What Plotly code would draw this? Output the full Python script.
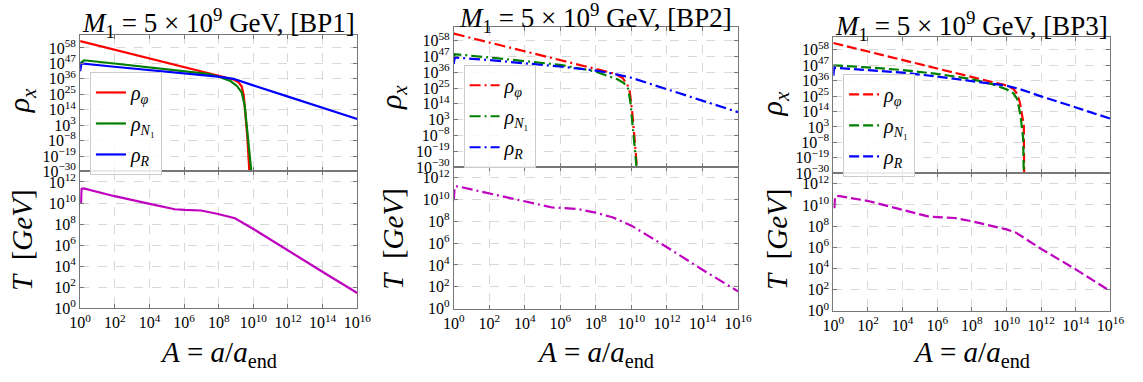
import numpy as np
import plotly.graph_objects as go

# ---------------- data (log10 values) ----------------
# BP1
bp1_phi_lx = [0, 4, 7.96, 8.86, 9.15, 9.33, 9.45, 9.55, 9.65, 9.78]
bp1_phi_lr = [62.9, 50.6, 38.3, 35.5, 33.5, 30.5, 24, 12, -5, -32]
bp1_n1_lx = [0, 0.23, 1.97, 3.98, 5.95, 7.36, 7.96, 8.68, 9.05, 9.33, 9.5, 9.62, 9.75, 9.9]
bp1_n1_lr = [47.1, 49.2, 46.9, 44.3, 41.8, 39.5, 37.6, 34.4, 30.9, 26.3, 17, 2, -15, -32]
bp1_r_lx = [0, 0.07, 1.97, 3.98, 5.95, 7.96, 8.86, 9.24, 9.95, 11.96, 13.97, 16]
bp1_r_lr = [41.3, 46.9, 44.6, 42.3, 40.0, 37.6, 36.0, 34.4, 31.5, 23.5, 15.5, 7.4]
bp1_t_lx = [0.05, 0.08, 0.2, 1.99, 3.95, 5.46, 6.03, 6.97, 7.9, 8.94, 9.98, 11.96, 13.94, 16]
bp1_t_lt = [10.0, 11.35, 11.39, 10.65, 9.94, 9.41, 9.35, 9.29, 8.98, 8.55, 7.56, 5.52, 3.52, 1.45]

# BP2
bp2_phi_lx = [0, 3.98, 7.93, 9.03, 9.49, 9.76, 9.91, 10.04, 10.17, 10.32]
bp2_phi_lr = [62.9, 50.6, 38.2, 35.1, 32.2, 27.7, 22.1, 8.6, -9.4, -32]
bp2_n1_lx = [0, 0.05, 2, 3.98, 5.96, 7.93, 8.66, 9.21, 9.58, 9.82, 9.94, 10.13, 10.3]
bp2_n1_lr = [45.6, 48.6, 46.3, 43.9, 41.2, 36.7, 33.8, 31.1, 28.4, 24.3, 15.3, -7.1, -32]
bp2_r_lx = [0, 0.05, 2, 3.98, 5.96, 7.93, 9.03, 9.98, 11.96, 13.98, 16]
bp2_r_lr = [41.8, 46.3, 44.5, 42.3, 40.0, 37.3, 34.9, 32.2, 24.2, 16.2, 8.2]
bp2_t_lx = [0.0, 0.05, 0.22, 1.96, 3.98, 5.54, 6.0, 7.01, 7.98, 8.97, 10.0, 12.02, 14.04, 16]
bp2_t_lt = [9.94, 11.2, 11.22, 10.6, 9.85, 9.28, 9.25, 9.13, 8.81, 8.36, 7.61, 5.61, 3.52, 1.58]

# BP3
bp3_phi_lx = [0, 3.98, 7.98, 9.27, 10.02, 10.4, 10.62, 10.77, 10.92, 11.0, 11.02]
bp3_phi_lr = [62.9, 51.0, 39.0, 34.8, 32.5, 30.2, 26.3, 20.5, 11.2, 4.3, -32]
bp3_n1_lx = [0, 0.05, 1.97, 3.99, 5.97, 7.98, 9.27, 10.02, 10.4, 10.62, 10.81, 10.96, 11.0]
bp3_n1_lr = [46.4, 46.9, 45.5, 43.6, 40.9, 37.2, 33.2, 29.7, 27.0, 22.8, 11.2, -5, -32]
bp3_r_lx = [0, 0.05, 1.97, 3.99, 5.97, 7.98, 9.98, 10.77, 12.0, 14.01, 16]
bp3_r_lr = [39.5, 45.3, 43.6, 41.8, 39.0, 36.0, 32.5, 30.0, 24.8, 16.9, 8.9]
bp3_t_lx = [0.06, 0.1, 0.28, 2.02, 4.01, 5.46, 6.0, 7.0, 8.0, 9.04, 10.0, 10.55, 12.0, 14.0, 16.0]
bp3_t_lt = [9.69, 10.8, 10.86, 10.37, 9.54, 8.92, 8.86, 8.77, 8.46, 8.09, 7.69, 7.38, 5.85, 3.91, 1.85]

titles = ["BP1", "BP2", "BP3"]
x_tick_exp = [0, 2, 4, 6, 8, 10, 12, 14, 16]
rho_tick_exp = [-30, -19, -8, 3, 14, 25, 36, 47, 58]
t_tick_exp = [0, 2, 4, 6, 8, 10, 12]

# ---------------- layout helpers ----------------
W, H = 1143, 382
FONT = "Liberation Serif"
C_PHI, C_N1, C_R, C_T = "#ff0000", "#008000", "#0000ff", "#bf00bf"
DASHES = ["solid", "11px,4px,2px,4px", "10px,4px"]

# pixel geometry of each panel: x0, x1, top_y0, split, bottom_y1
geom = [
    (70.7, 354.0, 35.7, 175.6, 315.7),
    (452.7, 743.3, 28.0, 171.0, 316.0),
    (840.7, 1124.0, 37.7, 177.4, 318.3),
]
title_y = [23.5, 18.0, 27.0]
rho_lab_x = [10, 390, 780]
t_lab_x = [11, 391, 783]
rho_lab_y = [103, 100, 106]
t_lab_y = [246, 244, 245]
legend_pos = [(80.7, 73.7), (462.7, 66.3), (850.7, 75.7)]


def sup(e):
    s = str(e).replace("-", "\u2212")
    return "10<sup>%s</sup>" % s


def fx(p):
    return p / W


def fy(p):
    return 1 - p / H


data = [
    (bp1_phi_lx, bp1_phi_lr, bp1_n1_lx, bp1_n1_lr, bp1_r_lx, bp1_r_lr, bp1_t_lx, bp1_t_lt),
    (bp2_phi_lx, bp2_phi_lr, bp2_n1_lx, bp2_n1_lr, bp2_r_lx, bp2_r_lr, bp2_t_lx, bp2_t_lt),
    (bp3_phi_lx, bp3_phi_lr, bp3_n1_lx, bp3_n1_lr, bp3_r_lx, bp3_r_lr, bp3_t_lx, bp3_t_lt),
]

fig = go.Figure()
layout = dict(
    width=W, height=H,
    margin=dict(l=0, r=0, t=0, b=0),
    paper_bgcolor="white", plot_bgcolor="white",
    font=dict(family=FONT, color="black", size=14),
    showlegend=True,
    annotations=[],
)

axis_common = dict(
    type="log", showline=True, linecolor="#777777", linewidth=1, mirror="ticks",
    ticks="inside", ticklen=4, tickcolor="#777777", tickwidth=1,
    showgrid=True, gridcolor="#d8d8d8", griddash="dash", gridwidth=0.8,
    zeroline=False, tickfont=dict(family=FONT, size=16, color="black"),
)

names = ["<i>ρ</i><sub><i>φ</i></sub>", "<i>ρ</i><sub><i>N</i>\u2081</sub>", "<i>ρ</i><sub><i>R</i></sub>"]

for i, (x0, x1, ty0, split, by1) in enumerate(geom):
    kt, kb = 2 * i + 1, 2 * i + 2
    xt, yt = ("x" if kt == 1 else "x%d" % kt), ("y" if kt == 1 else "y%d" % kt)
    xb, yb = "x%d" % kb, "y%d" % kb
    legname = "legend" if i == 0 else "legend%d" % (i + 1)
    d = data[i]
    dash = DASHES[i]
    for j, (lx, lr, col) in enumerate([(d[0], d[1], C_PHI), (d[2], d[3], C_N1), (d[4], d[5], C_R)]):
        fig.add_trace(go.Scatter(
            x=10.0 ** np.array(lx), y=10.0 ** np.array(lr), mode="lines",
            line=dict(color=col, width=2.2, dash=dash), name=names[j],
            xaxis=xt, yaxis=yt, legend=legname, legendgroup="g%d_%d" % (i, j),
        ))
    fig.add_trace(go.Scatter(
        x=10.0 ** np.array(d[6]), y=10.0 ** np.array(d[7]), mode="lines",
        line=dict(color=C_T, width=2.2, dash=dash), showlegend=False,
        xaxis=xb, yaxis=yb,
    ))

    xdom = [fx(x0), fx(x1)]
    layout["xaxis" if kt == 1 else "xaxis%d" % kt] = dict(
        axis_common, domain=xdom, anchor=yt, range=[0, 16],
        tickvals=[10.0 ** e for e in x_tick_exp], showticklabels=False,
    )
    layout["yaxis" if kt == 1 else "yaxis%d" % kt] = dict(
        axis_common, domain=[fy(split), fy(ty0)], anchor=xt, range=[-30, 67.3],
        tickvals=[10.0 ** e for e in rho_tick_exp], ticktext=[sup(e) for e in rho_tick_exp],
    )
    layout["xaxis%d" % kb] = dict(
        axis_common, domain=xdom, anchor=yb, range=[0, 16],
        tickvals=[10.0 ** e for e in x_tick_exp], ticktext=[sup(e) for e in x_tick_exp],
    )
    layout["yaxis%d" % kb] = dict(
        axis_common, domain=[fy(by1), fy(split)], anchor=xb, range=[0, 13],
        tickvals=[10.0 ** e for e in t_tick_exp], ticktext=[sup(e) for e in t_tick_exp],
    )

    lx0, ly0 = legend_pos[i]
    layout[legname] = dict(
        x=fx(lx0), y=fy(ly0), xanchor="left", yanchor="top",
        bgcolor="rgba(255,255,255,0.85)", bordercolor="#cccccc", borderwidth=1,
        font=dict(family=FONT, size=20, color="black"), tracegroupgap=2,
        itemwidth=30,
    )

    cx = (x0 + x1) / 2
    layout["annotations"] += [
        dict(text="<i>M</i><sub>1</sub> = 5 × 10<sup>9</sup> GeV, [%s]" % titles[i],
             x=fx(cx), y=fy(title_y[i]), xref="paper", yref="paper",
             xanchor="center", yanchor="middle", showarrow=False,
             font=dict(family=FONT, size=27, color="black")),
        dict(text="<i>ρ<sub>x</sub></i>", x=fx(rho_lab_x[i]), y=fy(rho_lab_y[i]),
             xref="paper", yref="paper", xanchor="center", yanchor="middle",
             textangle=-90, showarrow=False, font=dict(family=FONT, size=30, color="black")),
        dict(text="<i>T</i>  [<i>GeV</i>]", x=fx(t_lab_x[i]), y=fy(t_lab_y[i]),
             xref="paper", yref="paper", xanchor="center", yanchor="middle",
             textangle=-90, showarrow=False, font=dict(family=FONT, size=29, color="black")),
        dict(text="<i>A</i> = <i>a</i>/<i>a</i><sub>end</sub>", x=fx(cx), y=fy(363),
             xref="paper", yref="paper", xanchor="center", yanchor="middle",
             showarrow=False, font=dict(family=FONT, size=29, color="black")),
    ]

fig.update_layout(**layout)
fig.write_html("out.html")
